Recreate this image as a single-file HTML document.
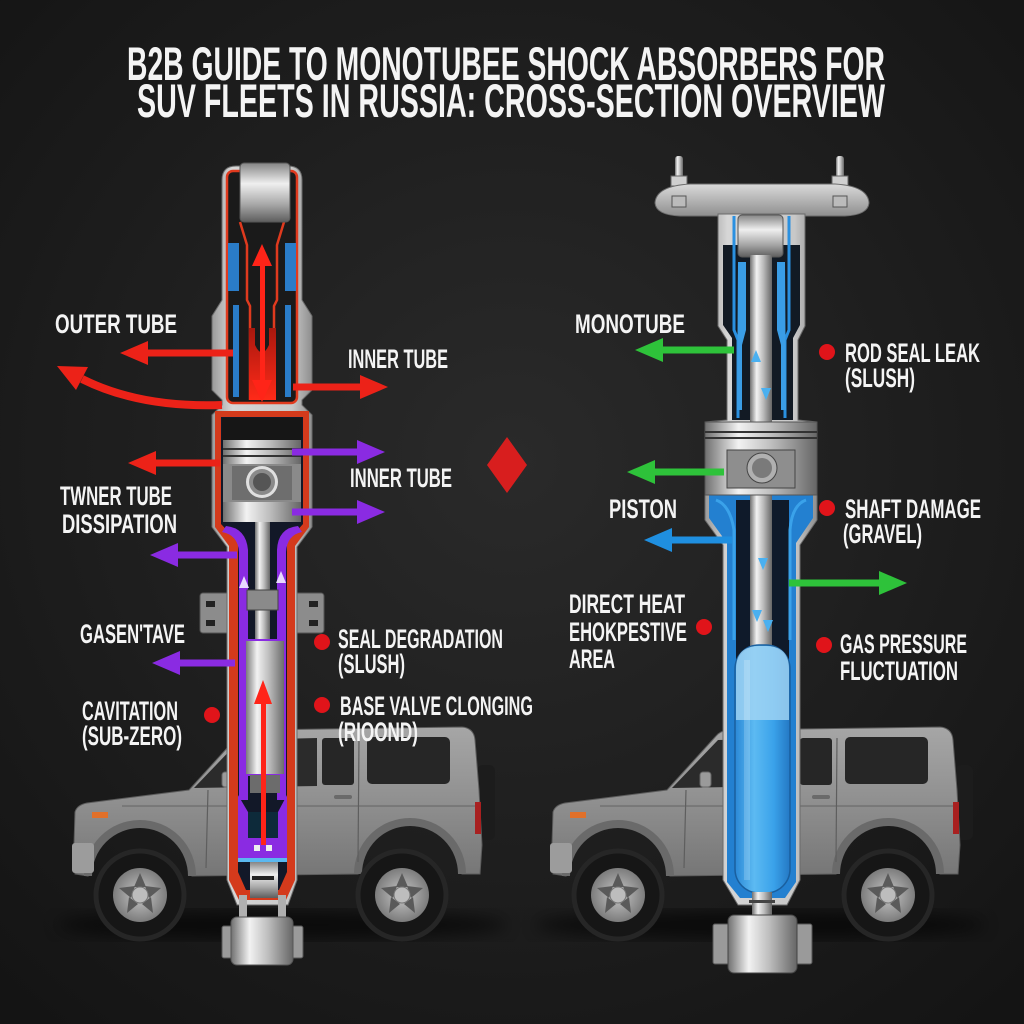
<!DOCTYPE html>
<html><head><meta charset="utf-8"><style>html,body{margin:0;padding:0;background:#1a1a1a}svg{display:block}text{font-family:"Liberation Sans Narrow","Liberation Sans",sans-serif;font-weight:bold;fill:#f4f4f4}</style></head>
<body>
<svg width="1024" height="1024" viewBox="0 0 1024 1024" xmlns="http://www.w3.org/2000/svg">
<defs>
<radialGradient id="bg" cx="50%" cy="45%" r="72%"><stop offset="0" stop-color="#2a2a2a"/><stop offset="1" stop-color="#141414"/></radialGradient>
<linearGradient id="sv" x1="0" y1="0" x2="1" y2="0"><stop offset="0" stop-color="#707070"/><stop offset=".3" stop-color="#f2f2f2"/><stop offset=".6" stop-color="#bdbdbd"/><stop offset="1" stop-color="#666"/></linearGradient>
<linearGradient id="sh" x1="0" y1="0" x2="0" y2="1"><stop offset="0" stop-color="#858585"/><stop offset=".35" stop-color="#efefef"/><stop offset=".7" stop-color="#a8a8a8"/><stop offset="1" stop-color="#5e5e5e"/></linearGradient>
<linearGradient id="shell" x1="0" y1="0" x2="1" y2="0"><stop offset="0" stop-color="#9a9a9a"/><stop offset=".2" stop-color="#d6d6d6"/><stop offset=".8" stop-color="#c8c8c8"/><stop offset="1" stop-color="#8e8e8e"/></linearGradient>
<linearGradient id="redflow" x1="0" y1="0" x2="0" y2="1"><stop offset="0" stop-color="#a8180e"/><stop offset="1" stop-color="#ff2a18"/></linearGradient>
<linearGradient id="gas" x1="0" y1="0" x2="1" y2="0"><stop offset="0" stop-color="#2a88d6"/><stop offset=".35" stop-color="#5cbaf2"/><stop offset=".7" stop-color="#3aa2ea"/><stop offset="1" stop-color="#2478c4"/></linearGradient>
<linearGradient id="plate" x1="0" y1="0" x2="0" y2="1"><stop offset="0" stop-color="#dadada"/><stop offset="1" stop-color="#8e8e8e"/></linearGradient>
<linearGradient id="body" x1="0" y1="0" x2="0" y2="1"><stop offset="0" stop-color="#a6a6a6"/><stop offset=".45" stop-color="#929292"/><stop offset="1" stop-color="#767676"/></linearGradient>
<radialGradient id="rim" cx="50%" cy="50%" r="50%"><stop offset="0" stop-color="#c8c8c8"/><stop offset="1" stop-color="#7c7c7c"/></radialGradient>
<filter id="blur"><feGaussianBlur stdDeviation="8"/></filter>
<g id="car">
  <ellipse cx="760" cy="925" rx="225" ry="14" fill="#000" opacity=".6" filter="url(#blur)"/>
  <rect x="955" y="765" width="18" height="75" rx="6" fill="#1c1c1c"/>
  <path d="M 552 845 L 553 812 Q 555 805 565 803 L 667 790 L 716 736 Q 720 731 728 730 L 940 727 Q 952 728 953 740 L 957 790 L 960 845 L 958 874 L 940 874 A 52 52 0 0 0 836 874 L 670 876 A 52 52 0 0 0 566 876 L 553 874 Z" fill="url(#body)" stroke="#5c5c5c" stroke-width="1"/>
  <path d="M 940 874 A 52 52 0 0 0 836 874" fill="none" stroke="#6a6a6a" stroke-width="8"/>
  <path d="M 670 876 A 52 52 0 0 0 566 876" fill="none" stroke="#6a6a6a" stroke-width="8"/>
  <path d="M 672 788 L 718 740 L 795 738 L 795 786 Z" fill="#2b2b2b"/>
  <rect x="800" y="738" width="32" height="47" rx="3" fill="#262626"/>
  <rect x="845" y="737" width="83" height="47" rx="5" fill="#262626"/>
  <line x1="600" y1="806" x2="955" y2="806" stroke="#6c6c6c" stroke-width="1.2"/>
  <line x1="686" y1="790" x2="684" y2="868" stroke="#5e5e5e" stroke-width="1.2"/>
  <line x1="837" y1="738" x2="836" y2="862" stroke="#5e5e5e" stroke-width="1.2"/>
  <rect x="812" y="795" width="18" height="4" rx="2" fill="#6a6a6a"/>
  <rect x="700" y="772" width="11" height="15" rx="3" fill="#9a9a9a" stroke="#666"/>
  <rect x="570" y="812" width="16" height="6" fill="#e0702a"/>
  <rect x="953" y="802" width="6" height="32" fill="#a82020"/>
  <rect x="550" y="843" width="22" height="30" rx="3" fill="#9c9c9c"/>
</g>
<g id="wheel">
  <circle r="44" fill="#161616" stroke="#262626" stroke-width="5"/>
  <circle r="27" fill="url(#rim)"/>
  <g fill="#5a5a5a"><path d="M0 -22 L6 -8 L-6 -8 Z"/><path d="M21 -7 L9 3 L5 -9 Z" /><path d="M13 18 L2 9 L11 2 Z"/><path d="M-13 18 L-11 2 L-2 9 Z"/><path d="M-21 -7 L-5 -9 L-9 3 Z"/></g>
  <circle r="8" fill="#bdbdbd" stroke="#777"/>
</g>
</defs>

<rect width="1024" height="1024" fill="url(#bg)"/>

<!-- Title -->
<text x="127" y="80" font-size="47" textLength="758" lengthAdjust="spacingAndGlyphs">B2B GUIDE TO MONOTUBEE SHOCK ABSORBERS FOR</text>
<text x="137" y="117" font-size="47" textLength="748" lengthAdjust="spacingAndGlyphs">SUV FLEETS IN RUSSIA: CROSS-SECTION OVERVIEW</text>

<!-- Cars -->
<use href="#car"/>
<use href="#wheel" x="618" y="895"/>
<use href="#wheel" x="888" y="895"/>
<g transform="translate(-478 0)"><use href="#car"/></g>
<use href="#wheel" x="140" y="895"/>
<use href="#wheel" x="402" y="895"/>

<!-- LEFT SHOCK -->
<rect x="200" y="593" width="30" height="40" rx="3" fill="#8c8c8c" stroke="#555"/>
<rect x="206" y="601" width="9" height="6" fill="#222"/><rect x="206" y="620" width="9" height="6" fill="#222"/>
<rect x="294" y="593" width="30" height="40" rx="3" fill="#8c8c8c" stroke="#555"/>
<rect x="309" y="601" width="9" height="6" fill="#222"/><rect x="309" y="620" width="9" height="6" fill="#222"/>

<path d="M 222 180 Q 222 166 236 166 L 288 166 Q 302 166 302 180 L 302 300 L 312 316 L 312 390 L 302 400 L 302 405 L 312 415 L 312 527 L 297 547 L 297 880 L 288 905 L 237 905 L 227 880 L 227 547 L 212 527 L 212 415 L 222 405 L 222 400 L 212 390 L 212 316 L 222 300 Z" fill="url(#shell)" stroke="#6a6a6a" stroke-width="1"/>
<!-- upper interior -->
<rect x="227" y="171" width="70" height="232" rx="6" fill="#1a1a1a" stroke="#e03a1e" stroke-width="2.5"/>
<rect x="228" y="243" width="11" height="48" fill="#2a7cc8"/>
<rect x="285" y="243" width="11" height="48" fill="#2a7cc8"/>
<rect x="233" y="305" width="6" height="92" fill="#2a7cc8"/>
<rect x="285" y="305" width="6" height="92" fill="#2a7cc8"/>
<path d="M 240 222 L 247 245 L 247 300 L 250 306 L 250 400" fill="none" stroke="#e03a1e" stroke-width="2.5"/>
<path d="M 284 222 L 277 245 L 277 300 L 274 306 L 274 400" fill="none" stroke="#e03a1e" stroke-width="2.5"/>
<path d="M 249 400 L 249 328 L 255 328 L 255 345 Q 262 360 269 345 L 269 328 L 276 328 L 276 400 Z" fill="url(#redflow)"/>
<rect x="240" y="163" width="50" height="59" rx="4" fill="url(#sh)" stroke="#555"/>
<rect x="260" y="262" width="5" height="122" fill="#ff2418"/>
<polygon points="262,244 252,266 272,266" fill="#ff2418"/>
<polygon points="262,402 252,380 272,380" fill="#ff2418"/>
<!-- lower body -->
<path d="M 215 411 L 309 411 L 309 527 L 295 546 L 295 880 L 286 900 L 239 900 L 229 880 L 229 546 L 215 527 Z" fill="#d43a1c"/>
<path d="M 221 417 L 303 417 L 303 524 L 287 542 L 287 872 L 279 890 L 246 890 L 238 872 L 238 542 L 221 524 Z" fill="#121828"/>
<rect x="222" y="418" width="80" height="22" fill="#161616"/>
<!-- purple channels -->
<path d="M 226 526 Q 246 528 248 550 L 248 800 L 239 800 L 239 552 Q 238 535 222 532 Z" fill="#8a2be2"/>
<path d="M 298 526 Q 278 528 277 550 L 277 800 L 286 800 L 286 552 Q 287 535 302 532 Z" fill="#8a2be2"/>
<polygon points="244,576 239,588 249,588" fill="#e8d8ff"/>
<polygon points="281,571 276,583 286,583" fill="#e8d8ff"/>
<!-- rod & clamp -->
<rect x="255" y="520" width="15" height="122" fill="url(#sv)"/>
<rect x="247" y="590" width="31" height="20" fill="#8a8a8a" stroke="#444"/>
<!-- inner cylinder -->
<rect x="245" y="640" width="40" height="135" fill="url(#sv)" stroke="#8a2be2" stroke-width="2"/>
<rect x="250" y="775" width="30" height="18" fill="#6c6c6c"/>
<!-- base cup -->
<path d="M 238 795 L 248 812 L 248 838 L 278 838 L 278 812 L 287 795 L 287 858 L 238 858 Z" fill="#8a2be2"/>
<rect x="248" y="812" width="30" height="26" fill="#0d2a3a"/>
<rect x="254" y="845" width="6" height="6" fill="#eee"/><rect x="266" y="845" width="6" height="6" fill="#eee"/>
<rect x="238" y="858" width="49" height="4" fill="#5ab8f0"/>
<rect x="250" y="862" width="28" height="36" fill="url(#sh)"/>
<rect x="252" y="876" width="22" height="4" fill="#222"/>
<!-- red arrow inside -->
<rect x="261" y="700" width="5" height="145" fill="#ff2418"/>
<polygon points="263,680 254,704 272,704" fill="#ff2418"/>
<!-- piston -->
<rect x="223" y="440" width="78" height="24" fill="url(#sv)"/>
<rect x="223" y="448" width="78" height="2" fill="#333"/><rect x="223" y="455" width="78" height="2" fill="#333"/>
<rect x="223" y="464" width="78" height="38" fill="#8a8a8a"/>
<rect x="232" y="466" width="60" height="34" fill="#6e6e6e"/>
<circle cx="262" cy="482" r="16" fill="#e0e0e0"/><circle cx="262" cy="482" r="13" fill="#8a8a8a"/><circle cx="262" cy="482" r="9" fill="#555"/>
<rect x="223" y="502" width="78" height="20" fill="url(#sv)"/>
<!-- bottom eye -->
<rect x="239" y="895" width="8" height="25" fill="#b0b0b0"/><rect x="278" y="895" width="8" height="25" fill="#b0b0b0"/>
<rect x="222" y="926" width="13" height="32" rx="2" fill="#9a9a9a" stroke="#555"/>
<rect x="290" y="926" width="13" height="32" rx="2" fill="#9a9a9a" stroke="#555"/>
<rect x="231" y="917" width="62" height="48" rx="6" fill="url(#sv)" stroke="#555"/>

<!-- RIGHT SHOCK -->
<rect x="675" y="156" width="8" height="30" rx="3" fill="url(#sv)"/>
<rect x="836" y="156" width="8" height="30" rx="3" fill="url(#sv)"/>
<rect x="671" y="176" width="16" height="10" fill="#cfcfcf" stroke="#666"/>
<rect x="832" y="176" width="16" height="10" fill="#cfcfcf" stroke="#666"/>
<path d="M 655 203 Q 656 186 690 184 L 835 184 Q 868 186 869 203 Q 868 215 845 216 L 680 216 Q 656 215 655 203 Z" fill="url(#plate)" stroke="#6a6a6a"/>
<rect x="672" y="196" width="14" height="11" fill="#bbb" stroke="#555"/>
<rect x="833" y="196" width="14" height="11" fill="#bbb" stroke="#555"/>
<path d="M 718 214 L 805 214 L 805 326 L 798 340 L 798 420 L 817 422 L 817 520 L 800 545 L 800 880 L 787 905 L 738 905 L 723 880 L 723 545 L 705 520 L 705 422 L 727 420 L 727 340 L 718 326 Z" fill="url(#shell)" stroke="#6a6a6a"/>
<path d="M 723 245 L 800 245 L 800 325 L 793 338 L 793 420 L 732 420 L 732 338 L 723 325 Z" fill="#121a24"/>
<path d="M 734 216 L 734 330 L 738 340 L 738 418" fill="none" stroke="#2a90e0" stroke-width="3"/>
<path d="M 789 216 L 789 330 L 785 340 L 785 418" fill="none" stroke="#2a90e0" stroke-width="3"/>
<path d="M 738 262 L 746 262 L 746 330 L 742 345 L 742 410 L 737 410 Z" fill="#3a9de6"/>
<path d="M 785 262 L 777 262 L 777 330 L 781 345 L 781 410 L 786 410 Z" fill="#3a9de6"/>
<rect x="738" y="215" width="45" height="42" rx="4" fill="url(#sh)" stroke="#555"/>
<path d="M 709 495 L 813 495 L 813 518 L 796 543 L 796 882 L 785 898 L 740 898 L 727 882 L 727 543 L 709 518 Z" fill="#2380d0"/>
<rect x="736" y="500" width="53" height="160" fill="#0f1a2a"/>
<path d="M 716 500 Q 730 505 734 530 L 734 640" fill="none" stroke="#3aa2ea" stroke-width="3"/>
<path d="M 806 500 Q 792 505 790 530 L 790 640" fill="none" stroke="#3aa2ea" stroke-width="3"/>
<rect x="750" y="255" width="22" height="400" fill="url(#sv)"/>
<polygon points="756,350 751,362 761,362" fill="#4ab0f0"/>
<polygon points="766,400 761,388 771,388" fill="#4ab0f0"/>
<polygon points="763,570 758,558 768,558" fill="#4ab0f0"/>
<polygon points="757,622 752,610 762,610" fill="#4ab0f0"/>
<polygon points="768,632 763,620 773,620" fill="#4ab0f0"/>
<rect x="735" y="645" width="55" height="248" rx="24" fill="url(#gas)" stroke="#1a5f9e" stroke-width="1.5"/>
<path d="M 736 720 L 736 669 Q 736 646 759 646 L 766 646 Q 789 646 789 669 L 789 720 Z" fill="#a4d6f4" opacity=".8"/>
<rect x="744" y="660" width="6" height="220" fill="#fff" opacity=".18"/>
<!-- piston right -->
<rect x="705" y="422" width="112" height="73" fill="url(#sv)" stroke="#555"/>
<rect x="705" y="431" width="112" height="2" fill="#333"/><rect x="705" y="437" width="112" height="2" fill="#333"/>
<rect x="727" y="450" width="68" height="38" fill="#8e8e8e" stroke="#444"/>
<circle cx="762" cy="468" r="15" fill="#b0b0b0" stroke="#444"/><circle cx="762" cy="468" r="10" fill="#7a7a7a"/>
<!-- bottom right -->
<rect x="752" y="892" width="20" height="26" fill="url(#sv)"/>
<rect x="749" y="900" width="26" height="3" fill="#444"/>
<rect x="713" y="924" width="17" height="40" rx="2" fill="#9a9a9a" stroke="#555"/>
<rect x="795" y="924" width="17" height="40" rx="2" fill="#9a9a9a" stroke="#555"/>
<rect x="728" y="915" width="69" height="58" rx="6" fill="url(#sv)" stroke="#444"/>

<!-- Arrows -->
<g fill="#ec2218">
<rect x="146" y="349.5" width="87" height="7"/><polygon points="120,353 148,341 148,365"/>
<rect x="293" y="383.5" width="70" height="7"/><polygon points="388,387 360,375 360,399"/>
<rect x="154" y="459.5" width="66" height="7"/><polygon points="128,463 156,451 156,475"/>
<path d="M 222 405 Q 140 408 82 379" fill="none" stroke="#ec2218" stroke-width="8"/>
<polygon points="57,366 88,367 76,390"/>
</g>
<g fill="#8a2be2">
<rect x="292" y="448.5" width="68" height="7"/><polygon points="385,452 357,440 357,464"/>
<rect x="292" y="508.5" width="68" height="7"/><polygon points="385,512 357,500 357,524"/>
<rect x="176" y="551.5" width="61" height="7"/><polygon points="150,555 178,543 178,567"/>
<rect x="178" y="659.5" width="57" height="7"/><polygon points="152,663 180,651 180,675"/>
</g>
<g fill="#2ec23a">
<rect x="661" y="346.5" width="73" height="7"/><polygon points="635,350 663,338 663,362"/>
<rect x="653" y="468.5" width="71" height="7"/><polygon points="627,472 655,460 655,484"/>
<rect x="789" y="579.5" width="93" height="7"/><polygon points="907,583 879,571 879,595"/>
</g>
<g fill="#1f8fe0">
<rect x="670" y="536.5" width="62" height="7"/><polygon points="644,540 672,528 672,552"/>
</g>
<polygon points="507,437 527,465 507,493 487,465" fill="#d81e1e"/>

<!-- dots -->
<g fill="#e0141a">
<circle cx="212" cy="715" r="8"/><circle cx="322" cy="642" r="8"/><circle cx="322" cy="705" r="8"/>
<circle cx="827" cy="352" r="8"/><circle cx="827" cy="508" r="8"/><circle cx="704" cy="627" r="8"/><circle cx="824" cy="645" r="8"/>
</g>

<!-- Labels -->
<g font-size="27">
<text x="55" y="333" textLength="122" lengthAdjust="spacingAndGlyphs">OUTER TUBE</text>
<text x="348" y="368" textLength="100" lengthAdjust="spacingAndGlyphs">INNER TUBE</text>
<text x="350" y="487" textLength="102" lengthAdjust="spacingAndGlyphs">INNER TUBE</text>
<text x="60" y="505" textLength="112" lengthAdjust="spacingAndGlyphs">TWNER TUBE</text>
<text x="62" y="533" textLength="115" lengthAdjust="spacingAndGlyphs">DISSIPATION</text>
<text x="80" y="643" textLength="105" lengthAdjust="spacingAndGlyphs">GASEN'TAVE</text>
<text x="82" y="720" textLength="96" lengthAdjust="spacingAndGlyphs">CAVITATION</text>
<text x="82" y="745" textLength="100" lengthAdjust="spacingAndGlyphs">(SUB-ZERO)</text>
<text x="338" y="648" textLength="165" lengthAdjust="spacingAndGlyphs">SEAL DEGRADATION</text>
<text x="338" y="673" textLength="67" lengthAdjust="spacingAndGlyphs">(SLUSH)</text>
<text x="340" y="715" textLength="193" lengthAdjust="spacingAndGlyphs">BASE VALVE CLONGING</text>
<text x="338" y="741" textLength="80" lengthAdjust="spacingAndGlyphs">(RIOOND)</text>
<text x="575" y="333" textLength="110" lengthAdjust="spacingAndGlyphs">MONOTUBE</text>
<text x="845" y="362" textLength="135" lengthAdjust="spacingAndGlyphs">ROD SEAL LEAK</text>
<text x="845" y="387" textLength="70" lengthAdjust="spacingAndGlyphs">(SLUSH)</text>
<text x="609" y="518" textLength="68" lengthAdjust="spacingAndGlyphs">PISTON</text>
<text x="845" y="518" textLength="136" lengthAdjust="spacingAndGlyphs">SHAFT DAMAGE</text>
<text x="843" y="543" textLength="79" lengthAdjust="spacingAndGlyphs">(GRAVEL)</text>
<text x="569" y="613" textLength="116" lengthAdjust="spacingAndGlyphs">DIRECT HEAT</text>
<text x="569" y="641" textLength="118" lengthAdjust="spacingAndGlyphs">EHOKPESTIVE</text>
<text x="569" y="668" textLength="46" lengthAdjust="spacingAndGlyphs">AREA</text>
<text x="840" y="653" textLength="127" lengthAdjust="spacingAndGlyphs">GAS PRESSURE</text>
<text x="840" y="680" textLength="118" lengthAdjust="spacingAndGlyphs">FLUCTUATION</text>
</g>
</svg>
</body></html>
